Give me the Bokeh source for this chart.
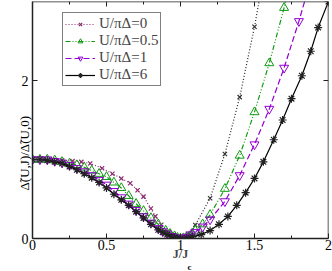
from bokeh.plotting import figure
from bokeh.models import (FixedTicker, LinearAxis, Range1d, Legend, LegendItem, Title,
                          CustomLabelingPolicy)
from bokeh.embed import file_html
from bokeh.resources import INLINE

# ---- data ----
u0_left_x = [0, 0.07, 0.13, 0.2, 0.27, 0.33, 0.39, 0.47, 0.54, 0.6, 0.66, 0.71, 0.75, 0.8, 0.83, 0.87, 0.92, 0.96, 1.0]
u0_left_y = [1, 1, 1, 0.99, 0.98, 0.97, 0.95, 0.89, 0.82, 0.76, 0.7, 0.61, 0.53, 0.38, 0.28, 0.175, 0.08, 0.02, 0]
u0_right_x = [1.0, 1.05, 1.1, 1.2, 1.3, 1.4, 1.5, 1.55]
u0_right_y = [0, 0.06, 0.17, 0.51, 1.07, 1.79, 2.68, 3.2]

u05_x = [0, 0.05, 0.1, 0.15, 0.2, 0.25, 0.3, 0.35, 0.4, 0.45, 0.5, 0.55, 0.6, 0.65, 0.7, 0.75, 0.8, 0.85, 0.9,
         0.93, 0.96, 0.98, 1.0, 1.02, 1.04, 1.06, 1.08, 1.1, 1.15, 1.2, 1.3, 1.4, 1.5, 1.6, 1.7, 1.75]
u05_y = [1, 1, 1, 0.99, 0.97, 0.95, 0.93, 0.9, 0.86, 0.82, 0.78, 0.71, 0.64, 0.54, 0.44, 0.35, 0.26, 0.18, 0.1,
         0.06, 0.03, 0.01, 0, 0.005, 0.015, 0.03, 0.06, 0.1, 0.18, 0.3, 0.63, 1.05, 1.6, 2.22, 2.92, 3.3]

u1_x = [0, 0.05, 0.1, 0.15, 0.2, 0.25, 0.3, 0.35, 0.4, 0.45, 0.5, 0.55, 0.6, 0.65, 0.7, 0.75, 0.8, 0.85, 0.88,
        0.91, 0.94, 0.96, 0.98, 1.0, 1.02, 1.04, 1.07, 1.1, 1.15, 1.2, 1.3, 1.4, 1.5, 1.6, 1.7, 1.8, 1.9]
u1_y = [1, 1, 1, 0.98, 0.96, 0.93, 0.89, 0.85, 0.8, 0.74, 0.68, 0.6, 0.52, 0.44, 0.36, 0.28, 0.2, 0.13, 0.09,
        0.06, 0.03, 0.015, 0.005, 0, 0.005, 0.02, 0.05, 0.08, 0.15, 0.24, 0.47, 0.8, 1.19, 1.64, 2.16, 2.75, 3.4]

u6_x = [0, 0.05, 0.1, 0.15, 0.2, 0.25, 0.3, 0.35, 0.4, 0.45, 0.5, 0.55, 0.6, 0.65, 0.7, 0.75, 0.8, 0.85, 0.88,
        0.91, 0.94, 0.96, 0.98, 1.0, 1.04, 1.08, 1.14, 1.2, 1.26, 1.32, 1.38, 1.44, 1.5, 1.56, 1.63, 1.69, 1.75,
        1.82, 1.88, 1.93, 2.0]
u6_y = [1, 1, 0.99, 0.97, 0.95, 0.91, 0.87, 0.82, 0.77, 0.71, 0.64, 0.56, 0.49, 0.42, 0.34, 0.26, 0.18, 0.11, 0.08,
        0.05, 0.025, 0.012, 0.004, 0, 0.01, 0.02, 0.05, 0.1, 0.18, 0.28, 0.42, 0.58, 0.76, 0.97, 1.25, 1.5, 1.77,
        2.06, 2.37, 2.67, 3.0]

labels = ["U/\u03c0\u0394=0", "U/\u03c0\u0394=0.5", "U/\u03c0\u0394=1", "U/\u03c0\u0394=6"]
x_ticks = [0, 0.5, 1, 1.5, 2]
x_tick_labels = ["0", "0.5", "1", "1.5", "2"]
x_minor = [0.25, 0.75, 1.25, 1.75]
y_ticks = [0, 2]
y_tick_labels = ["0", "2"]
x_title = "J/J"
x_title_sub = "c"
y_title = "\u0394\u0303(U,J)/\u0394\u0303(U,0)"
x_max = 2
y_max = 3

FONT = "Liberation Serif"
C_MAROON = "#8b2a6f"
C_GREEN = "#119a11"
C_VIOLET = "#9400d3"
C_BLACK = "#000000"

p = figure(width=332, height=271, output_backend="svg", toolbar_location=None,
           x_range=Range1d(0, x_max), y_range=Range1d(0, y_max),
           min_border_left=32, min_border_right=4, min_border_top=1, min_border_bottom=30)
p.xgrid.visible = False
p.ygrid.visible = False
p.outline_line_color = None
p.background_fill_color = "white"
p.border_fill_color = "white"

no_labels = CustomLabelingPolicy(code="for (const i of [...indices]) { indices.unset(i) } return indices")

def style_axis(ax, ticks, minor, overrides, show_labels):
    ax.ticker = FixedTicker(ticks=ticks, minor_ticks=minor)
    ax.major_tick_in = 5
    ax.major_tick_out = 0
    ax.minor_tick_in = 3
    ax.minor_tick_out = 0
    ax.axis_line_color = "#222222"
    ax.axis_line_width = 1.5
    ax.major_tick_line_color = "#222222"
    ax.minor_tick_line_color = "#222222"
    ax.major_label_overrides = overrides
    ax.major_label_text_font = FONT
    ax.major_label_text_color = "black"
    if show_labels:
        ax.major_label_text_font_size = "14px"
    else:
        ax.major_label_text_font_size = "0px"
        ax.major_label_policy = no_labels
        ax.major_label_standoff = 0

xo = {t: l for t, l in zip(x_ticks, x_tick_labels)}
yo = {t: l for t, l in zip(y_ticks, y_tick_labels)}

xa = p.xaxis[0]
style_axis(xa, x_ticks, x_minor, xo, True)
xa.major_label_standoff = 1
xa.axis_label = x_title
xa.axis_label_text_font = FONT
xa.axis_label_text_font_size = "12px"
xa.axis_label_text_font_style = "bold"
xa.axis_label_standoff = -6

ya = p.yaxis[0]
style_axis(ya, y_ticks, [], yo, True)
ya.major_label_standoff = 4

top = LinearAxis(fixed_location=y_max)
style_axis(top, x_ticks, x_minor, xo, False)
p.add_layout(top, "above")
right = LinearAxis(fixed_location=x_max)
style_axis(right, y_ticks, [], yo, False)
p.add_layout(right, "right")

# y title (left side, rotated) and subscript of x title
ytitle = Title(text=y_title, align="left", offset=48, standoff=-26,
               text_font=FONT, text_font_size="13px", text_font_style="normal", text_color="black")
p.add_layout(ytitle, "left")
xsub = Title(text=x_title_sub, align="left", offset=155, standoff=-4, vertical_align="top",
             text_font=FONT, text_font_size="9px", text_font_style="bold", text_color="black")
p.add_layout(xsub, "below")

# ---- series ----
l0 = p.line(u0_left_x, u0_left_y, line_color=C_MAROON, line_width=1.2, line_dash="1 2")
s0 = p.scatter(u0_left_x, u0_left_y, marker="x", size=6, line_color=C_MAROON, line_width=1.2)
p.line(u0_right_x, u0_right_y, line_color="#222222", line_width=1.2, line_dash="1 2")
p.scatter(u0_right_x, u0_right_y, marker="x", size=6, line_color="#333333", line_width=1.2)

l1 = p.line(u05_x, u05_y, line_color=C_GREEN, line_width=1.2, line_dash="5 2 1 2 1 2")
s1 = p.scatter(u05_x, u05_y, marker="triangle", size=9, line_color=C_GREEN, fill_color=None, line_width=1)

l2 = p.line(u1_x, u1_y, line_color=C_VIOLET, line_width=1.2, line_dash="6 3")
s2 = p.scatter(u1_x, u1_y, marker="inverted_triangle", size=9, line_color=C_VIOLET, fill_color=None, line_width=1)

l3 = p.line(u6_x, u6_y, line_color=C_BLACK, line_width=1.2)
s3 = p.scatter(u6_x, u6_y, marker="asterisk", size=8, line_color="#222222", line_width=1.2)

legend = Legend(items=[
    LegendItem(label=labels[0], renderers=[l0, s0]),
    LegendItem(label=labels[1], renderers=[l1, s1]),
    LegendItem(label=labels[2], renderers=[l2, s2]),
    LegendItem(label=labels[3], renderers=[l3, s3]),
], location=(30, 152))
legend.label_text_font = FONT
legend.label_text_font_size = "15px"
legend.label_height = 12
legend.glyph_height = 12
legend.glyph_width = 30
legend.spacing = -4
legend.padding = 2
legend.margin = 0
legend.label_standoff = 4
legend.border_line_color = "black"
legend.border_line_width = 1
legend.background_fill_alpha = 1
p.add_layout(legend)

open("out.html", "w").write(file_html(p, INLINE))
